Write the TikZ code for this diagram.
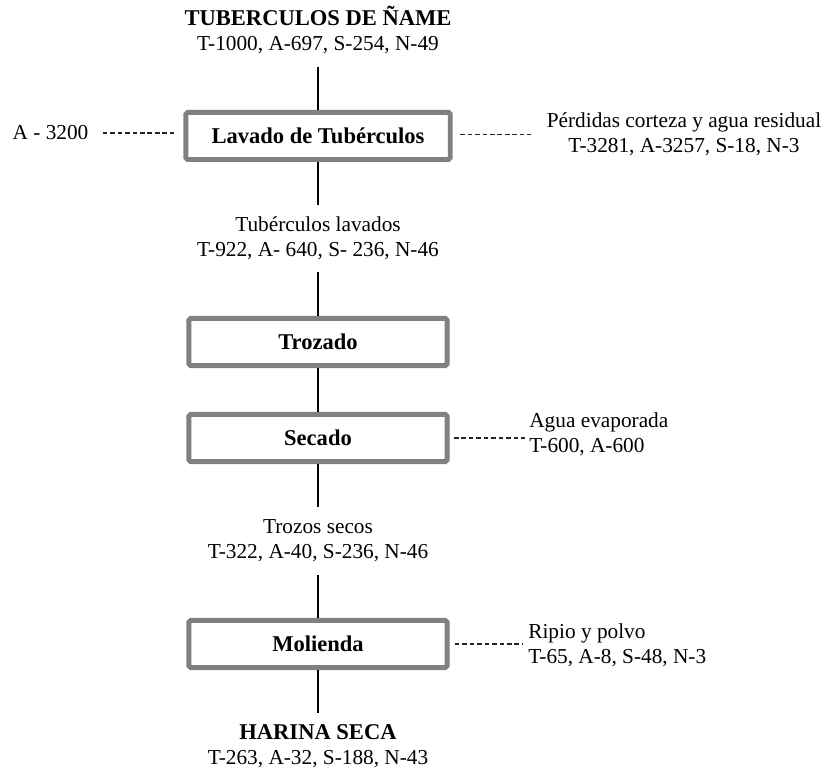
\documentclass[tikz,border=0pt]{standalone}
\usepackage{fontspec}
\setmainfont{Liberation Serif}
\definecolor{boxgray}{RGB}{128,128,128}
\begin{document}
\begin{tikzpicture}[x=0.5634pt,y=-0.5634pt,
  txt/.style={font=\fontsize{12}{14.1}\selectfont},
  procbox/.style={draw=boxgray,line width=2.8pt,rounded corners=1pt,fill=white,
    minimum width=145.4pt,minimum height=26.5pt,inner sep=0pt,
    font=\fontsize{12.7}{15}\selectfont\bfseries},
  flow/.style={draw=black,line width=0.85pt},
  loss/.style={draw=black!85,line width=0.6pt,dash pattern=on 2.6pt off 1.6pt},
  stream/.style={txt,align=center,inner sep=0pt},
  side/.style={txt,align=left,inner sep=0pt,anchor=west}]
\useasboundingbox (0,0) rectangle (826,775);

% process steps
\node[procbox,minimum width=149pt] (lav) at (318,136) {Lavado de Tubérculos};
\node[procbox] (tro) at (318,342) {Trozado};
\node[procbox] (sec) at (318,438) {Secado};
\node[procbox] (mol) at (318,644) {Molienda};

% main streams
\node[stream] (feed) at (318,30)
  {{\fontsize{12.7}{15}\selectfont\bfseries TUBERCULOS DE ÑAME}\\T-1000, A-697, S-254, N-49};
\node[stream] (washed) at (318,238.5)
  {Tubérculos lavados\\T-922, A- 640, S- 236, N-46};
\node[stream] (dried) at (318,540.5)
  {Trozos secos\\T-322, A-40, S-236, N-46};
\node[stream] (flour) at (318,746.5)
  {{\fontsize{12.7}{15}\selectfont\bfseries HARINA SECA}\\T-263, A-32, S-188, N-43};

\coordinate (feedend) at (318,67);
\coordinate (washtop) at (318,205);
\coordinate (washbot) at (318,272);
\coordinate (drytop) at (318,507);
\coordinate (drybot) at (318,575);
\coordinate (flourtop) at (318,713);

\draw[flow] (feedend) -- (lav.north);
\draw[flow] (lav.south) -- (washtop);
\draw[flow] (washbot) -- (tro.north);
\draw[flow] (tro.south) -- (sec.north);
\draw[flow] (sec.south) -- (drytop);
\draw[flow] (drybot) -- (mol.north);
\draw[flow] (mol.south) -- (flourtop);

% side inputs and losses
\node[txt,inner sep=0pt] (water) at (50.5,133) {A - 3200};
\draw[loss,shorten <=7.9pt,shorten >=5.4pt] (water.east) -- (water.east -| lav.west);

\node[stream] (peel) at (684,134.5)
  {Pérdidas corteza y agua residual\\T-3281, A-3257, S-18, N-3};
\draw[loss,shorten <=4.2pt,shorten >=8.5pt] (lav.east |- peel.west) -- (peel.west);

\node[side] (evap) at (529,434) {Agua evaporada\\T-600, A-600};
\draw[loss,shorten <=2.5pt,shorten >=2.3pt] (sec.east) -- (sec.east -| evap.west);

\node[side] (dust) at (528,645) {Ripio y polvo\\T-65, A-8, S-48, N-3};
\draw[loss,shorten <=3pt,shorten >=3.4pt] (mol.east) -- (mol.east -| dust.west);
\end{tikzpicture}
\end{document}
